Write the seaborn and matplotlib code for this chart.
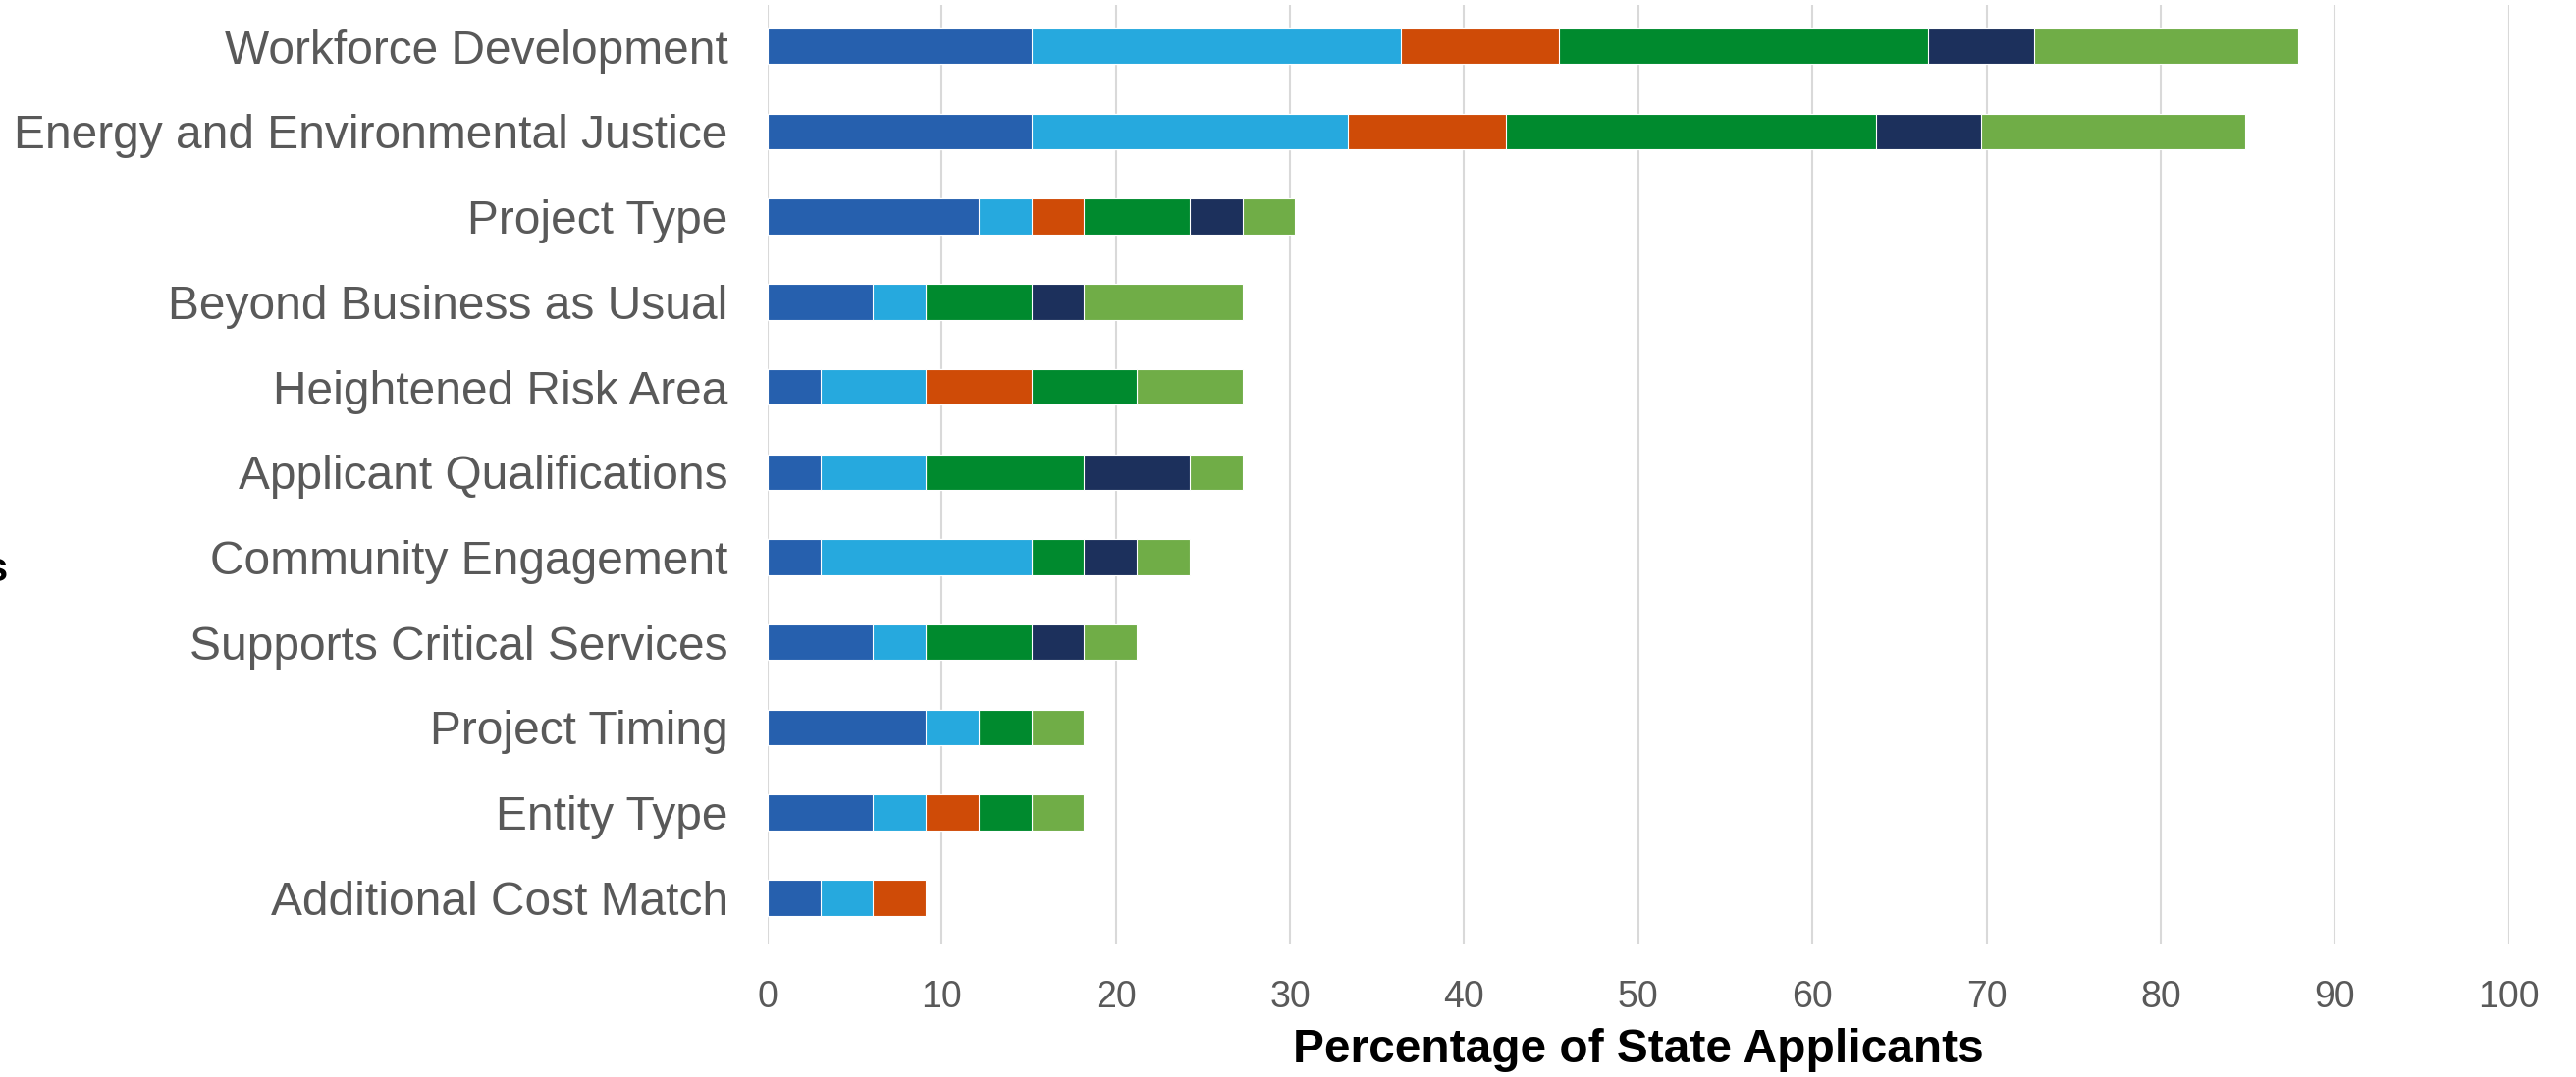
import numpy as np
import pandas as pd
import matplotlib
matplotlib.use("Agg")
import matplotlib.pyplot as plt
import seaborn as sns

categories = [
    "Workforce Development",
    "Energy and Environmental Justice",
    "Project Type",
    "Beyond Business as Usual",
    "Heightened Risk Area",
    "Applicant Qualifications",
    "Community Engagement",
    "Supports Critical Services",
    "Project Timing",
    "Entity Type",
    "Additional Cost Match",
]

series_names = ["Series 1", "Series 2", "Series 3", "Series 4", "Series 5", "Series 6"]

s1 = [15.15, 15.15, 12.12, 6.06, 3.03, 3.03, 3.03, 6.06, 9.09, 6.06, 3.03]
s2 = [21.21, 18.18, 3.03, 3.03, 6.06, 6.06, 12.12, 3.03, 3.03, 3.03, 3.03]
s3 = [9.09, 9.09, 3.03, 0.0, 6.06, 0.0, 0.0, 0.0, 0.0, 3.03, 3.03]
s4 = [21.21, 21.21, 6.06, 6.06, 6.06, 9.09, 3.03, 6.06, 3.03, 3.03, 0.0]
s5 = [6.06, 6.06, 3.03, 3.03, 0.0, 6.06, 3.03, 3.03, 0.0, 0.0, 0.0]
s6 = [15.15, 15.15, 3.03, 9.09, 6.06, 3.03, 3.03, 3.03, 3.03, 3.03, 0.0]

colors = ["#2660AE", "#26A9DE", "#CF4B07", "#008A2E", "#1C305C", "#70AD47"]

x_ticks = [0, 10, 20, 30, 40, 50, 60, 70, 80, 90, 100]
x_label = "Percentage of State Applicants"

sns.set_style("white")
plt.rcParams["font.family"] = ["Liberation Sans", "DejaVu Sans"]

fig = plt.figure(figsize=(26.24, 10.97), dpi=100)
ax = fig.add_axes([0.298, 0.123, 0.676, 0.872])

vals = np.array([s1, s2, s3, s4, s5, s6])
cum = np.cumsum(vals, axis=0)

for i in range(len(series_names) - 1, -1, -1):
    df = pd.DataFrame({"category": categories, "value": cum[i]})
    sns.barplot(data=df, y="category", x="value", orient="h", color=colors[i],
                width=0.42, saturation=1, ax=ax, edgecolor="white", linewidth=0.8,
                order=categories)

ax.set_xlim(0, 100)
ax.set_ylim(len(categories) - 0.45, -0.48)
ax.set_xticks(x_ticks)
ax.set_xticklabels([str(t) for t in x_ticks])
ax.grid(axis="x", color="#D9D9D9", linewidth=1.5)
ax.grid(axis="y", visible=False)
ax.set_axisbelow(True)
for sp in ax.spines.values():
    sp.set_visible(False)
ax.tick_params(axis="y", length=0, labelsize=34.5, labelcolor="#595959", pad=29)
ax.tick_params(axis="x", length=0, labelsize=27, labelcolor="#595959", pad=26)
ax.set_ylabel("")
ax.set_xlabel(x_label, fontsize=34.5, fontweight="bold", color="black", labelpad=9)

fig.text(-0.006, 0.47, "s", fontsize=30, fontweight="bold", color="black",
         ha="left", va="center")

fig.savefig("out.png", dpi=100)
